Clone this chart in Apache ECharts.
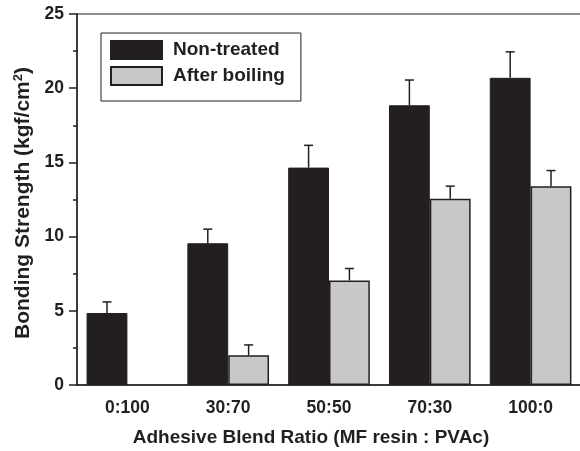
<!DOCTYPE html>
<html>
<head>
<meta charset="utf-8">
<script src="https://cdn.jsdelivr.net/npm/echarts@6/dist/echarts.min.js"></script>
<style>
  html, body { margin: 0; padding: 0; background: #fff; }
  #chart { width: 580px; height: 451px; }
</style>
</head>
<body>
<div id="chart"></div>
<script>
  // blend ratios (MF resin : PVAc)
  var ratios = ['0:100', '30:70', '50:50', '70:30', '100:0'];
  var nonTreated = [4.85, 9.55, 14.65, 18.85, 20.7];
  var nonTreatedErr = [0.75, 0.95, 1.5, 1.7, 1.75];
  var afterBoiling = ['-', 2.0, 7.05, 12.55, 13.4];
  var afterBoilingErr = ['-', 0.7, 0.8, 0.85, 1.05];
  var yTicks = { min: 0, max: 25, step: 5 };

  var dark = '#231f20';
  var grey = '#c8c8ca';
  var font = '"Liberation Sans", Arial, sans-serif';
  var catGap = 0.19;

  // error bar drawn at the centre of its bar, side = -1 (left) or 1 (right)
  function errRender(side) {
    return function(params, api) {
      var v = api.value(1), e = api.value(2);
      if (isNaN(v) || isNaN(e)) return;
      var base = api.coord([api.value(0), v]);
      var top = api.coord([api.value(0), v + e]);
      var bw = api.size([1, 0])[0];
      var barW = bw * (1 - catGap) / 2;
      var x = base[0] + side * barW / 2;
      var style = { stroke: dark, lineWidth: 1.5 };
      return {
        type: 'group',
        children: [
          { type: 'line', shape: { x1: x, y1: base[1], x2: x, y2: top[1] }, style: style },
          { type: 'line', shape: { x1: x - 4.5, y1: top[1], x2: x + 4.5, y2: top[1] }, style: style }
        ]
      };
    };
  }

  function errData(vals, errs) {
    return vals.map(function(v, i) { return [i, v, errs[i]]; });
  }

  var chart = echarts.init(document.getElementById('chart'));
  chart.setOption({
    animation: false,
    textStyle: { fontFamily: font },
    grid: {
      left: 77, right: -1, top: 14, bottom: 66,
      outerBoundsMode: 'none',
      show: true, borderColor: dark, borderWidth: 1
    },
    legend: {
      left: 101, top: 33,
      orient: 'vertical',
      data: ['Non-treated', 'After boiling'],
      itemWidth: 51, itemHeight: 18, itemGap: 6,
      padding: [7, 16, 15, 9],
      borderColor: dark, borderWidth: 1,
      icon: 'rect',
      textStyle: { fontSize: 19, fontWeight: 'bold', color: dark, lineHeight: 18, padding: [0, 0, 0, 6] }
    },
    xAxis: [{
      type: 'category',
      data: ratios,
      position: 'bottom',
      name: 'Adhesive Blend Ratio (MF resin : PVAc)',
      nameLocation: 'middle',
      nameGap: 43,
      nameTextStyle: { fontSize: 19, fontWeight: 'bold', color: dark, padding: [0, 36, 0, 0] },
      axisLine: { lineStyle: { color: dark, width: 1.5 } },
      axisTick: { alignWithLabel: true, length: 7, lineStyle: { color: dark, width: 1.5 } },
      axisLabel: { fontSize: 17.5, fontWeight: 'bold', color: dark, margin: 14 },
      splitLine: { show: false }
    }, {
      type: 'category',
      data: ratios,
      position: 'bottom',
      axisLine: { show: false },
      axisTick: { length: 5, lineStyle: { color: dark, width: 1.5 } },
      axisLabel: { show: false },
      splitLine: { show: false }
    }],
    yAxis: {
      type: 'value',
      min: yTicks.min, max: yTicks.max, interval: yTicks.step,
      name: 'Bonding Strength (kgf/cm{sup|2})',
      nameLocation: 'middle',
      nameGap: 43,
      nameTextStyle: {
        fontSize: 21, fontWeight: 'bold', color: dark, padding: [0, 7, 0, 0],
        rich: { sup: { fontSize: 13, fontWeight: 'bold', verticalAlign: 'top', padding: [0, 0, 9, 0] } }
      },
      axisLine: { show: true, lineStyle: { color: dark, width: 1.5 } },
      axisTick: { show: true, length: 8, lineStyle: { color: dark, width: 1.5 } },
      minorTick: { show: true, splitNumber: 2, length: 4, lineStyle: { color: dark, width: 1.5 } },
      axisLabel: { fontSize: 17.5, fontWeight: 'bold', color: dark, margin: 13 },
      splitLine: { show: false }
    },
    series: [{
      name: 'Non-treated',
      type: 'bar',
      data: nonTreated,
      barGap: 0,
      barCategoryGap: '19%',
      itemStyle: { color: dark, borderColor: dark, borderWidth: 1 }
    }, {
      name: 'After boiling',
      type: 'bar',
      data: afterBoiling,
      barGap: 0,
      barCategoryGap: '19%',
      itemStyle: { color: grey, borderColor: dark, borderWidth: 1.5 }
    }, {
      type: 'custom',
      renderItem: errRender(-1),
      data: errData(nonTreated, nonTreatedErr),
      z: 1
    }, {
      type: 'custom',
      renderItem: errRender(1),
      data: errData(afterBoiling, afterBoilingErr),
      z: 1
    }]
  });
</script>
</body>
</html>
